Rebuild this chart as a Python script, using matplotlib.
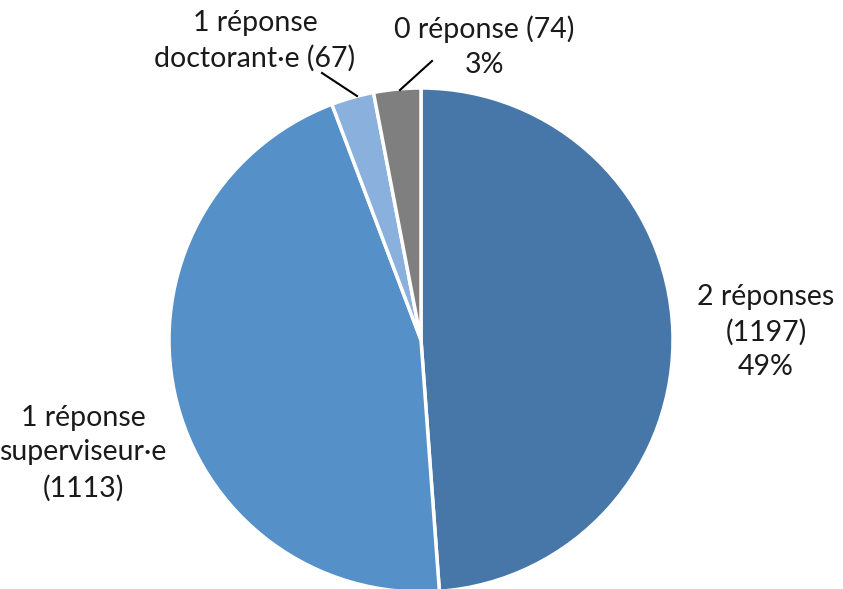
import matplotlib
matplotlib.use("Agg")
import matplotlib.pyplot as plt

categories = ["2 réponses", "1 réponse superviseur·e", "1 réponse doctorant·e", "0 réponse"]
values = [1197, 1113, 67, 74]
labels = ["2 réponses\n(1197)\n49%", "1 réponse\nsuperviseur·e\n(1113)",
          "1 réponse\ndoctorant·e (67)", "0 réponse (74)\n3%"]
colors = ["#4677A8", "#5590C8", "#8AB0DD", "#7F7F7F"]

W, H = 843, 589
fig = plt.figure(figsize=(W / 100, H / 100), dpi=100)
ax = fig.add_axes([0, 0, 1, 1])

cx, cy, r = 421, H - 340, 252
ax.pie(values, colors=colors, startangle=90, counterclock=False,
       center=(cx, cy), radius=r, frame=True,
       wedgeprops=dict(edgecolor="white", linewidth=2.5))
ax.set_xlim(0, W)
ax.set_ylim(0, H)
ax.set_aspect("equal")
ax.axis("off")

font = dict(family=["Lato", "DejaVu Sans"], fontsize=20.5, color="#1a1a1a",
            ha="center", va="center", linespacing=1.42)
pos = [(766, H - 332), (83, H - 453), (255, H - 41), (484, H - 47)]
for lab, (x, y) in zip(labels, pos):
    ax.text(x, y, lab, **font)

# leader lines
ax.plot([322, 357], [H - 73, H - 96], color="black", lw=1.5)
ax.plot([432, 400], [H - 61, H - 90], color="black", lw=1.5)

fig.savefig("out.png", dpi=100)
